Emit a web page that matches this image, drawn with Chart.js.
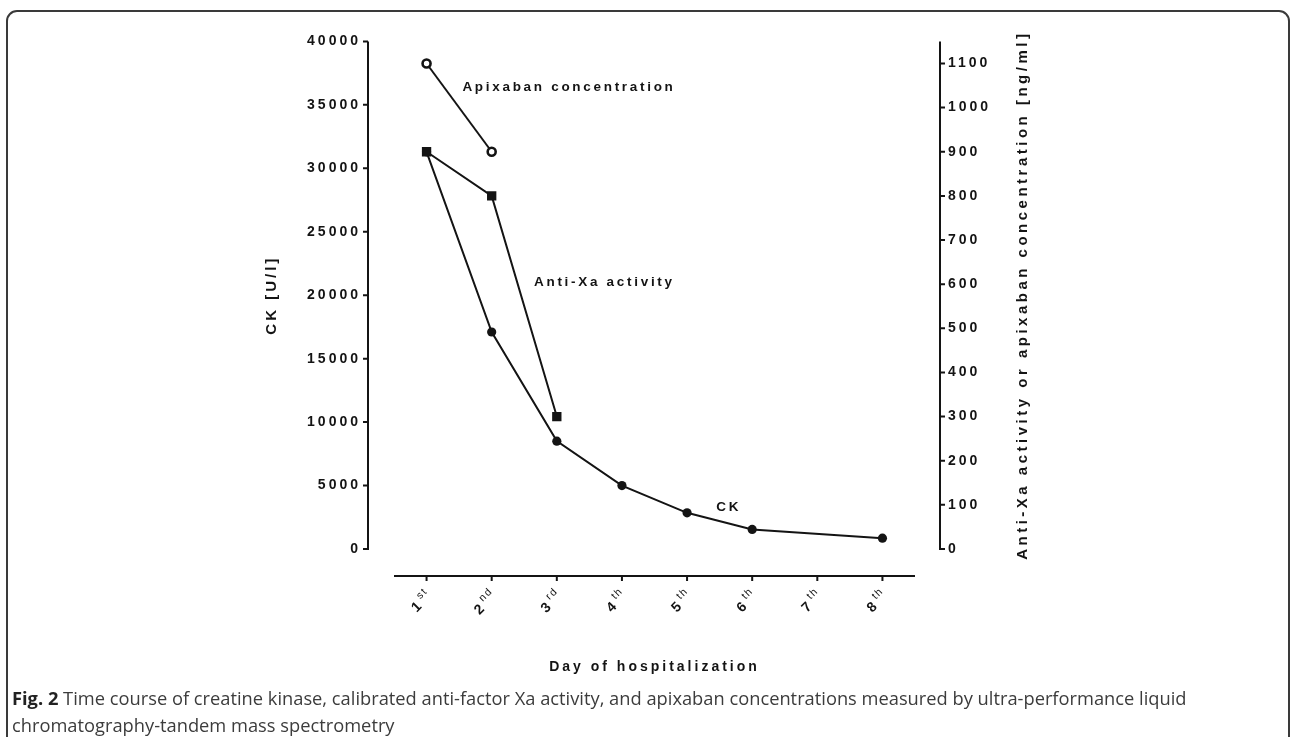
<!DOCTYPE html>
<html lang="en">
<head>
<meta charset="UTF-8" />
<title>Time course of CK, anti-Xa activity and apixaban</title>
<style>
  html, body { margin: 0; padding: 0; background: #fff; }
  body { width: 1292px; height: 737px; position: relative; overflow: hidden; }
  .frame {
    position: absolute; left: 6px; top: 10px; width: 1284px; height: 780px;
    border: 2px solid #3a3a3a; border-radius: 11px; box-sizing: border-box;
  }
  #chart { position: absolute; left: 0; top: 0; }
  .caption {
    position: absolute; left: 12px; top: 684px; width: 1250px;
    font-family: "Open Sans", sans-serif; font-size: 18.3px; line-height: 27px; color: #3c3c3c;
  }
  .caption b { color: #222; }
</style>
</head>
<body>
<div class="frame"></div>
<canvas id="chart" width="1292" height="690"></canvas>
<div class="caption"><b>Fig. 2</b> Time course of creatine kinase, calibrated anti-factor Xa activity, and apixaban concentrations measured by ultra-performance liquid<br>chromatography-tandem mass spectrometry</div>

<script src="https://cdn.jsdelivr.net/npm/chart.js@4"></script>
<script>
  // data
  var days = ["1", "2", "3", "4", "5", "6", "7", "8"];
  var daySuffix = ["st", "nd", "rd", "th", "th", "th", "th", "th"];
  var ckValues = [31300, 17100, 8500, 5000, 2850, 1540, null, 850];
  var antiXaValues = [900, 800, 300, null, null, null, null, null];
  var apixabanValues = [1100, 900, null, null, null, null, null, null];

  var ckMax = 40000, ckStep = 5000;
  var ngMax = 1150, ngStep = 100;

  var leftTitle = "CK [U/l]";
  var rightTitle = "Anti-Xa activity or apixaban concentration [ng/ml]";
  var bottomTitle = "Day of hospitalization";

  var ink = "#141414";
  var family = "'Liberation Sans', Arial, sans-serif";
  var spacing = "3px";

  var axesPlugin = {
    id: "axesPlugin",
    beforeUpdate: function (chart) { chart.ctx.letterSpacing = spacing; },
    beforeLayout: function (chart) { chart.ctx.letterSpacing = spacing; },
    beforeDraw: function (chart) { chart.ctx.letterSpacing = spacing; },
    afterDraw: function (chart) {
      var ctx = chart.ctx, a = chart.chartArea;
      var x = chart.scales.x, y = chart.scales.y, y1 = chart.scales.y1;
      ctx.save();
      ctx.strokeStyle = ink;
      ctx.lineWidth = 2;

      // offset axes, GraphPad style
      var lx = a.left - 26, rx = a.right + 25, by = a.bottom + 27;
      ctx.beginPath();
      ctx.moveTo(lx, y.getPixelForValue(ckMax));
      ctx.lineTo(lx, y.getPixelForValue(0) + 1);
      y.ticks.forEach(function (t) {
        var py = y.getPixelForValue(t.value);
        ctx.moveTo(lx - 5, py);
        ctx.lineTo(lx, py);
      });
      ctx.moveTo(rx, y1.getPixelForValue(ngMax));
      ctx.lineTo(rx, y1.getPixelForValue(0) + 1);
      y1.ticks.forEach(function (t) {
        var py = y1.getPixelForValue(t.value);
        ctx.moveTo(rx, py);
        ctx.lineTo(rx + 5, py);
      });
      ctx.moveTo(a.left, by);
      ctx.lineTo(a.right, by);
      days.forEach(function (d, i) {
        var px = x.getPixelForTick(i);
        ctx.moveTo(px, by - 1);
        ctx.lineTo(px, by + 5);
      });
      ctx.stroke();

      // x tick labels with superscripts
      ctx.fillStyle = ink;
      ctx.textAlign = "right";
      ctx.textBaseline = "middle";
      days.forEach(function (d, i) {
        var px = x.getPixelForTick(i);
        ctx.save();
        ctx.translate(px + 3, by + 17);
        ctx.rotate(-Math.PI / 4);
        ctx.letterSpacing = "1.5px";
        ctx.font = "10.5px " + family;
        var sw = ctx.measureText(daySuffix[i]).width;
        ctx.fillText(daySuffix[i], 0, -5);
        ctx.letterSpacing = spacing;
        ctx.font = "bold 14px " + family;
        ctx.fillText(d, -sw - 1, 1);
        ctx.restore();
      });

      // right axis title, reading bottom to top
      ctx.save();
      ctx.translate(a.right + 108, (a.top + a.bottom) / 2);
      ctx.rotate(-Math.PI / 2);
      ctx.letterSpacing = "3.5px";
      ctx.font = "bold 15px " + family;
      ctx.textAlign = "center";
      ctx.fillText(rightTitle, 0, 0);
      ctx.restore();

      // series labels
      ctx.letterSpacing = "2.7px";
      ctx.font = "bold 13.5px " + family;
      ctx.textAlign = "left";
      ctx.fillText("Apixaban concentration", x.getPixelForValue(0.55), y1.getPixelForValue(1045));
      ctx.fillText("Anti-Xa activity", x.getPixelForValue(1.65), y.getPixelForValue(21000));
      ctx.fillText("CK", x.getPixelForValue(4.45), y.getPixelForValue(3300));
      ctx.restore();
    }
  };

  var tickFont = { family: family, size: 14, weight: "bold" };

  new Chart(document.getElementById("chart"), {
    type: "line",
    data: {
      labels: days.map(function (d, i) { return d + daySuffix[i]; }),
      datasets: [
        {
          label: "Anti-Xa activity",
          data: antiXaValues,
          yAxisID: "y1",
          borderColor: ink,
          backgroundColor: ink,
          borderWidth: 2,
          pointStyle: "rect",
          pointRadius: 6.6,
          pointBorderWidth: 0,
          spanGaps: false
        },
        {
          label: "Apixaban concentration",
          data: apixabanValues,
          yAxisID: "y1",
          borderColor: ink,
          backgroundColor: "#fff",
          borderWidth: 2,
          pointStyle: "circle",
          pointRadius: 4,
          pointBorderWidth: 2.6
        },
        {
          label: "CK",
          data: ckValues,
          yAxisID: "y",
          borderColor: ink,
          backgroundColor: ink,
          borderWidth: 2,
          pointStyle: "circle",
          pointRadius: 4.6,
          pointBorderWidth: 0,
          spanGaps: true
        }
      ]
    },
    options: {
      responsive: false,
      animation: false,
      layout: { padding: { left: 194, right: 227, top: 29, bottom: 0 } },
      plugins: { legend: { display: false }, tooltip: { enabled: false } },
      elements: { line: { tension: 0 } },
      scales: {
        x: {
          type: "category",
          offset: true,
          grid: { display: false, drawTicks: false },
          border: { display: false },
          ticks: { display: false },
          title: {
            display: true,
            text: bottomTitle,
            color: ink,
            font: { family: family, size: 14, weight: "bold" },
            padding: { top: 0, bottom: 14.6 }
          },
          afterFit: function (s) { s.height = 141; }
        },
        y: {
          position: "left",
          min: 0,
          max: ckMax,
          grid: { display: false, drawTicks: false },
          border: { display: false },
          ticks: {
            stepSize: ckStep,
            color: ink,
            font: tickFont,
            padding: 33,
            callback: function (v) { return String(v); }
          },
          title: {
            display: true,
            text: leftTitle,
            color: ink,
            font: { family: family, size: 15, weight: "bold" },
            padding: { top: 69, bottom: 0 }
          },
          afterFit: function (s) { s.width = 200; }
        },
        y1: {
          position: "right",
          min: 0,
          max: ngMax,
          grid: { display: false, drawTicks: false },
          border: { display: false },
          ticks: {
            stepSize: ngStep,
            includeBounds: false,
            color: ink,
            font: tickFont,
            padding: 33,
            callback: function (v) { return String(v); }
          },
          afterFit: function (s) { s.width = 150; }
        }
      }
    },
    plugins: [axesPlugin]
  });
</script>
</body>
</html>
